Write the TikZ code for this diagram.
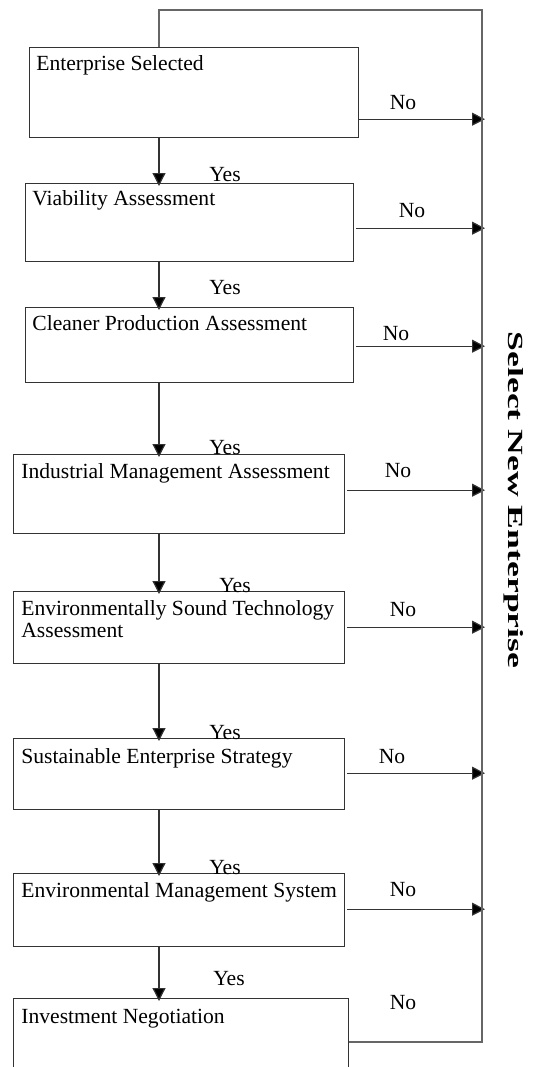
\documentclass[tikz,border=0pt]{standalone}
\usepackage{fontspec}
\setmainfont{Liberation Serif}
\usetikzlibrary{calc,arrows.meta}

\begin{document}
\begin{tikzpicture}[x=0.5pt,y=-0.5pt,
  box/.style={draw=black!80, line width=0.6pt, anchor=north west, inner sep=0pt},
  txt/.style={font=\fontsize{10.8}{11}\selectfont, inner sep=0pt},
  arr/.style={draw=black!80, line width=0.6pt, -{Triangle[length=6.5pt,width=6.5pt,fill=black]}, shorten >=-1.5pt},
  loop/.style={draw=black!60, line width=0.6pt}]

\clip (0,0) rectangle (532,1067);
\useasboundingbox (0,0) rectangle (532,1067);

% Define coordinates of the return line
\coordinate (tl) at (159,10);
\coordinate (tr) at (482,10);
\coordinate (br) at (482,1042);

% Boxes
\node[box, minimum width=164.5pt, minimum height=45pt] (b1) at (29,47) {};
\node[box, minimum width=164pt, minimum height=39pt] (b2) at (25,183) {};
\node[box, minimum width=164pt, minimum height=37.5pt] (b3) at (25,307) {};
\node[box, minimum width=165.5pt, minimum height=39.5pt] (b4) at (13,454) {};
\node[box, minimum width=165.5pt, minimum height=36pt] (b5) at (13,591) {};
\node[box, minimum width=165.5pt, minimum height=35.5pt] (b6) at (13,738) {};
\node[box, minimum width=165.5pt, minimum height=36.5pt] (b7) at (13,873) {};
\node[box, minimum width=167.5pt, minimum height=51pt] (b8) at (13,998) {};

% Box texts
\node[txt, anchor=base west] at ($(b1.north west)+(7,23)$) {Enterprise Selected};
\node[txt, anchor=base west] at ($(b2.north west)+(7,22)$) {Viability Assessment};
\node[txt, anchor=base west] at ($(b3.north west)+(7,23)$) {Cleaner Production Assessment};
\node[txt, anchor=base west] at ($(b4.north west)+(8,24)$) {Industrial Management Assessment};
\node[txt, anchor=base west] at ($(b5.north west)+(8,24)$) {Environmentally Sound Technology};
\node[txt, anchor=base west] at ($(b5.north west)+(8,46)$) {Assessment};
\node[txt, anchor=base west] at ($(b6.north west)+(8,25)$) {Sustainable Enterprise Strategy};
\node[txt, anchor=base west] at ($(b7.north west)+(8,24)$) {Environmental Management System};
\node[txt, anchor=base west] at ($(b8.north west)+(8,25)$) {Investment Negotiation};

% Yes arrows
\draw[arr] (b1.south -| tl) -- (b2.north -| tl);
\draw[arr] (b2.south -| tl) -- (b3.north -| tl);
\draw[arr] (b3.south -| tl) -- (b4.north -| tl);
\draw[arr] (b4.south -| tl) -- (b5.north -| tl);
\draw[arr] (b5.south -| tl) -- (b6.north -| tl);
\draw[arr] (b6.south -| tl) -- (b7.north -| tl);
\draw[arr] (b7.south -| tl) -- (b8.north -| tl);

\node[txt] at (225,175) {Yes};
\node[txt] at (225,288) {Yes};
\node[txt] at (225,448) {Yes};
\node[txt] at (235,586) {Yes};
\node[txt] at (225,733) {Yes};
\node[txt] at (225,868) {Yes};
\node[txt] at (229,979) {Yes};

% No arrows
\coordinate (n1) at ($(b1.south east)+(0,-19)$);
\coordinate (n2) at ($(b2.south east)+(2,-34)$);
\coordinate (n3) at ($(b3.south east)+(2,-37)$);
\coordinate (n4) at ($(b4.south east)+(2,-44)$);
\coordinate (n5) at ($(b5.south east)+(2,-37)$);
\coordinate (n6) at ($(b6.south east)+(2,-37)$);
\coordinate (n7) at ($(b7.south east)+(2,-38)$);
\draw[arr] (n1) -- (n1 -| tr);
\draw[arr] (n2) -- (n2 -| tr);
\draw[arr] (n3) -- (n3 -| tr);
\draw[arr] (n4) -- (n4 -| tr);
\draw[arr] (n5) -- (n5 -| tr);
\draw[arr] (n6) -- (n6 -| tr);
\draw[arr] (n7) -- (n7 -| tr);

\node[txt] at (403,103) {No};
\node[txt] at (412,211) {No};
\node[txt] at (396,334) {No};
\node[txt] at (398,471) {No};
\node[txt] at (403,610) {No};
\node[txt] at (392,757) {No};
\node[txt] at (403,890) {No};
\node[txt] at (403,1003) {No};

% Return line
\draw[loop] (tl |- b1.north) -- (tl) -- (tr) -- (br) -- (br -| b8.east);

% Side label
\node[txt, rotate=-90, font=\fontsize{10.8}{11}\selectfont\bfseries] at (514,500)
  {\scalebox{1.65}[1]{Select New Enterprise}};

\end{tikzpicture}
\end{document}
